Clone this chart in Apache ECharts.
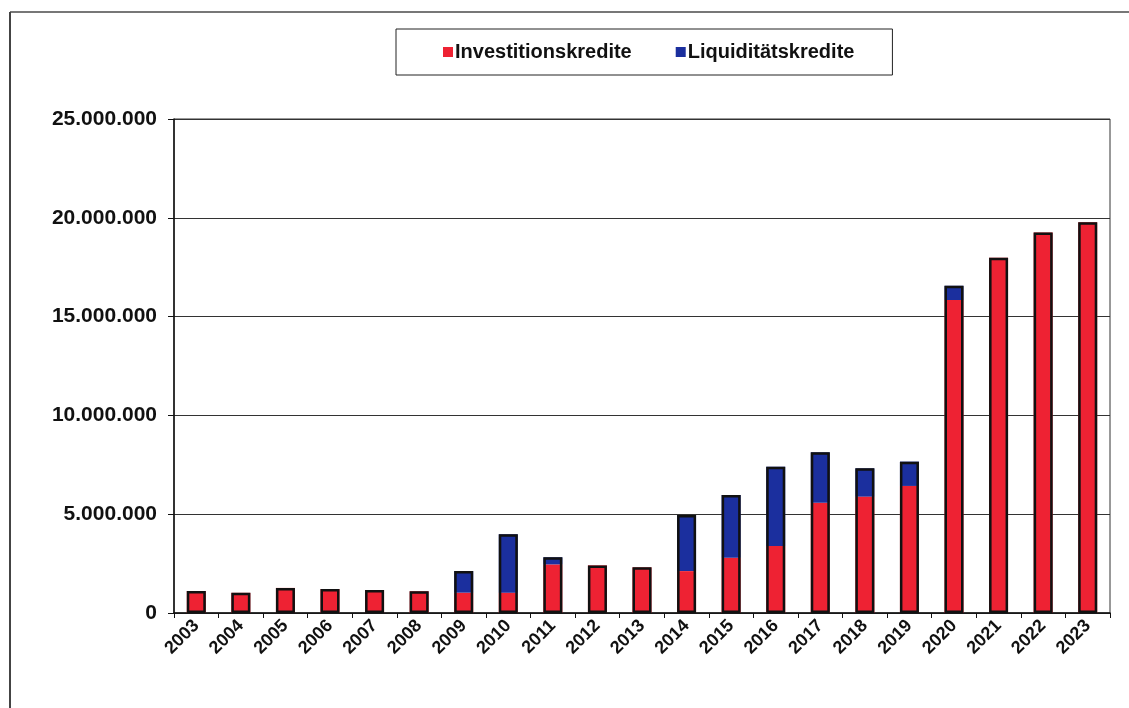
<!DOCTYPE html>
<html>
<head>
<meta charset="utf-8">
<script src="https://cdn.jsdelivr.net/npm/echarts@6/dist/echarts.min.js"></script>
<style>
    html, body { margin: 0; padding: 0; background: #fff; }
    #chart { width: 1129px; height: 708px; }
</style>
</head>
<body>
<div id="chart"></div>
<script>
// Jahre
const years = ['2003', '2004', '2005', '2006', '2007', '2008', '2009', '2010', '2011', '2012', '2013',
    '2014', '2015', '2016', '2017', '2018', '2019', '2020', '2021', '2022', '2023'];

// Investitionskredite (rot)
const investitionskredite = [1110000, 1020000, 1270000, 1210000, 1160000, 1100000, 1030000, 1030000, 2460000, 2410000, 2310000,
    2120000, 2800000, 3390000, 5580000, 5890000, 6430000, 15840000, 17980000, 19250000, 19770000];

// Liquiditätskredite (blau)
const liquiditaetskredite = [0, 0, 0, 0, 0, 0, 1090000, 2950000, 360000, 0, 0,
    2840000, 3170000, 4010000, 2550000, 1430000, 1230000, 720000, 0, 0, 0];

const yTicks = [0, 5000000, 10000000, 15000000, 20000000, 25000000];

// Summe nur für den schwarzen Rahmen um jeden Balken
const totals = years.map((y, i) => investitionskredite[i] + liquiditaetskredite[i]);

const fmt = (v) => String(v).replace(/\B(?=(\d{3})+(?!\d))/g, '.');

let chart = echarts.init(document.getElementById('chart'));

let option = {
    animation: false,
    textStyle: { fontFamily: 'Liberation Sans, Arial, sans-serif' },
    graphic: [
        // äußerer Rahmen (nur links und oben sichtbar)
        { type: 'line', shape: { x1: 10, y1: 12, x2: 1129, y2: 12 }, style: { stroke: '#777', lineWidth: 2 } },
        { type: 'line', shape: { x1: 10, y1: 12, x2: 10, y2: 708 }, style: { stroke: '#444', lineWidth: 2 } }
    ],
    legend: {
        data: ['Investitionskredite', 'Liquiditätskredite'],
        left: 396,
        top: 29,
        padding: [13, 38, 13, 47],
        itemGap: 44,
        itemWidth: 10,
        itemHeight: 10,
        itemStyle: { borderWidth: 0 },
        borderColor: '#222',
        borderWidth: 1,
        icon: 'rect',
        textStyle: { fontSize: 20, fontWeight: 'bold', color: '#111', padding: [0, 0, 0, -3] }
    },
    grid: {
        left: 174,
        right: 19,
        top: 119,
        bottom: 95,
        show: true,
        borderColor: '#333',
        borderWidth: 1
    },
    xAxis: {
        type: 'category',
        data: years,
        axisLine: { lineStyle: { color: '#111', width: 1.5 } },
        axisTick: { show: true, length: 5, lineStyle: { color: '#111' } },
        axisLabel: {
            rotate: 45,
            margin: 10,
            fontSize: 18,
            fontWeight: 'bold',
            color: '#111'
        }
    },
    yAxis: {
        type: 'value',
        min: 0,
        max: 25000000,
        interval: 5000000,
        axisLine: { show: true, lineStyle: { color: '#111', width: 1.5 } },
        axisTick: { show: true, length: 6, lineStyle: { color: '#111' } },
        splitLine: { lineStyle: { color: '#333', width: 1 } },
        axisLabel: {
            margin: 17,
            fontSize: 21,
            fontWeight: 'bold',
            color: '#111',
            formatter: (v) => yTicks.includes(v) ? fmt(v) : ''
        }
    },
    series: [
        {
            name: 'Investitionskredite',
            type: 'bar',
            stack: 'kredite',
            barWidth: 19,
            data: investitionskredite,
            itemStyle: { color: '#EE2233' }
        },
        {
            name: 'Liquiditätskredite',
            type: 'bar',
            stack: 'kredite',
            barWidth: 19,
            data: liquiditaetskredite,
            itemStyle: { color: '#1B2F9E' }
        },
        {
            name: 'Rahmen',
            type: 'bar',
            barWidth: 19,
            barGap: '-100%',
            z: 3,
            data: totals,
            itemStyle: { color: 'rgba(0,0,0,0)', borderColor: '#111', borderWidth: 2.5 }
        }
    ]
};
chart.setOption(option);
</script>
</body>
</html>
